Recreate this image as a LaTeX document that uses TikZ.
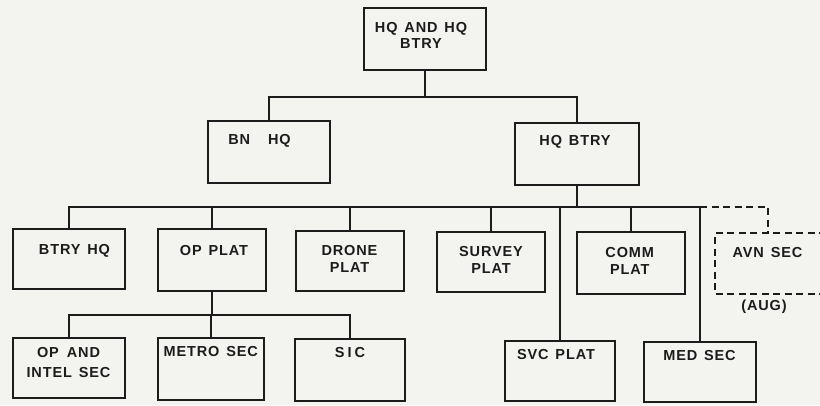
\documentclass[tikz,border=0pt]{standalone}
\usepackage{fontspec}
\newfontfamily\lett[LetterSpace=6,WordSpace=1.4]{Liberation Sans}
\usetikzlibrary{calc}
\definecolor{paper}{RGB}{243,243,240}
\definecolor{ink}{RGB}{28,28,28}
\tikzset{
  unit/.style={draw=ink, line width=2pt, inner sep=0pt},
  wire/.style={draw=ink, line width=2pt},
  dwire/.style={draw=ink, line width=2pt, dash pattern=on 7pt off 4.5pt},
  lbl/.style={font=\lett\bfseries\fontsize{14.5}{17}\selectfont, text=ink, align=center, inner sep=0pt}
}
\begin{document}
\begin{tikzpicture}[x=1pt,y=-1pt]
\fill[paper] (0,0) rectangle (820,405);
\useasboundingbox (0,0) rectangle (820,405);
% boxes
\node[unit, minimum width=122pt, minimum height=62pt] (top) at (425,39) {};
\node[unit, minimum width=122pt, minimum height=62pt] (bnhq) at (269,152) {};
\node[unit, minimum width=124pt, minimum height=62pt] (hqbtry) at (577,154) {};
\node[unit, minimum width=112pt, minimum height=60pt] (btryhq) at (69,259) {};
\node[unit, minimum width=108pt, minimum height=62pt] (opplat) at (212,260) {};
\node[unit, minimum width=108pt, minimum height=60pt] (drone) at (350,261) {};
\node[unit, minimum width=108pt, minimum height=60pt] (survey) at (491,262) {};
\node[unit, minimum width=108pt, minimum height=62pt] (comm) at (631,263) {};
\node[unit, minimum width=112pt, minimum height=60pt] (opintel) at (69,368) {};
\node[unit, minimum width=106pt, minimum height=62pt] (metro) at (211,369) {};
\node[unit, minimum width=110pt, minimum height=62pt] (sic) at (350,370) {};
\node[unit, minimum width=110pt, minimum height=60pt] (svc) at (560,371) {};
\node[unit, minimum width=112pt, minimum height=60pt] (med) at (700,372) {};
% augmentation box (dashed, runs off the right edge)
\coordinate (avntop) at (768,233);
\draw[dwire] (826,233) -- (715,233) -- (715,294) -- (826,294);
% labels
\node[lbl] (t-top) at (421,35) {HQ AND HQ\\[-1pt]BTRY};
\node[lbl] (t-bnhq) at (259.5,141) {BN\hspace{18pt}HQ};
\node[lbl] (t-hqbtry) at (575,142) {HQ BTRY};
\node[lbl] (t-btryhq) at (74.5,251) {BTRY HQ};
\node[lbl] (t-opplat) at (214,251) {OP PLAT};
\node[lbl] (t-drone) at (349.5,258.5) {DRONE\\PLAT};
\node[lbl] (t-survey) at (491,259.5) {SURVEY\\PLAT};
\node[lbl] (t-comm) at (629.7,260.5) {COMM\\PLAT};
\node[lbl] (t-avn) at (767.5,253) {AVN SEC};
\node[lbl] (t-aug) at (764,307) {(AUG)};
\node[lbl] (t-opintel) at (68.5,362.5) {OP\hspace{8pt}AND\\[3pt]INTEL SEC};
\node[lbl] (t-metro) at (210.7,352) {METRO SEC};
\node[lbl] (t-sic) at (350,353) {S\hspace{3pt}I\hspace{3pt}C};
\node[lbl] (t-svc) at (556,355) {SVC PLAT};
\node[lbl] (t-med) at (699.5,356) {MED SEC};
% buses
\coordinate (bus1) at (0,97);
\coordinate (bus2) at (0,207);
\coordinate (bus3) at (0,315);
\draw[wire] (top.south) -- (top.south |- bus1);
\draw[wire] (bnhq.north) -- (bnhq.north |- bus1) -- (hqbtry.north |- bus1) -- (hqbtry.north);
\draw[wire] (hqbtry.south) -- (hqbtry.south |- bus2);
\draw[wire] (btryhq.north) -- (btryhq.north |- bus2) -- (med.north |- bus2) -- (med.north);
\draw[wire] (opplat.north) -- (opplat.north |- bus2);
\draw[wire] (drone.north) -- (drone.north |- bus2);
\draw[wire] (survey.north) -- (survey.north |- bus2);
\draw[wire] (comm.north) -- (comm.north |- bus2);
\draw[wire] (svc.north) -- (svc.north |- bus2);
\draw[dwire] (med.north |- bus2) -- (avntop |- bus2) -- (avntop);
\draw[wire] (opplat.south) -- (opplat.south |- bus3);
\draw[wire] (opintel.north) -- (opintel.north |- bus3) -- (sic.north |- bus3) -- (sic.north);
\draw[wire] (metro.north) -- (metro.north |- bus3);
\end{tikzpicture}
\end{document}
